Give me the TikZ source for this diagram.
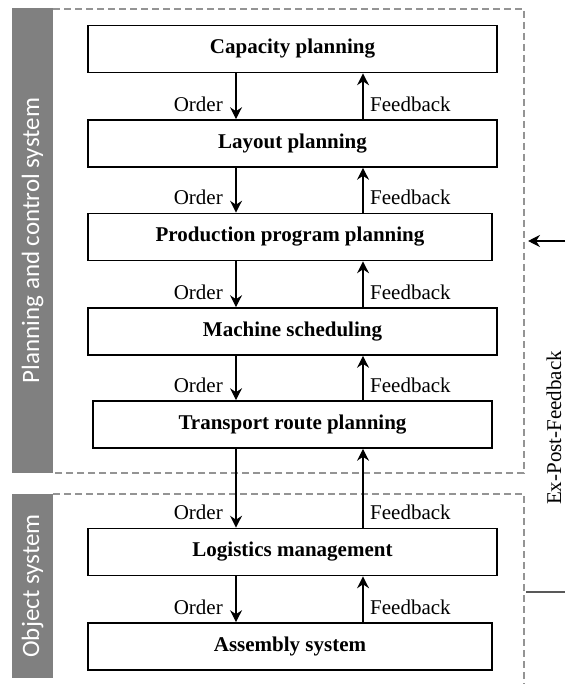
\documentclass[tikz,border=0pt]{standalone}
\usepackage{fontspec}
\setmainfont{Liberation Serif}
\newfontfamily\barfont{Carlito}
\usetikzlibrary{arrows.meta,calc}
\colorlet{barg}{black!50}
\colorlet{dashg}{black!42}
\colorlet{lineg}{black!65}
\tikzset{
    stage/.style={draw,line width=1.6pt,minimum height=47pt,inner sep=0pt,
        font=\fontsize{21}{24}\selectfont\bfseries},
    lbl/.style={inner sep=0pt,font=\fontsize{21}{24}\selectfont},
    flow/.style={line width=1.2pt,-{Stealth[length=12pt,width=12pt,inset=4pt]}},
    frame/.style={dashg,line width=2pt,dash pattern=on 7pt off 4pt},
    sidebar/.style={fill=barg,text=white,rotate=90,inner sep=0pt,
        minimum height=41pt,font=\barfont\fontsize{25}{28}\selectfont}
}
\begin{document}
\begin{tikzpicture}[x=1pt,y=-1pt]
            \useasboundingbox (0,0) rectangle (565,684);
            % side bars
            \node [sidebar,minimum width=465pt] (pcs) at (32.5,240.5) {Planning and control system};
            \node [sidebar,minimum width=184pt] (obj) at (32.5,586) {Object system};
            % dashed system frames
            \draw [frame] (53,9) -- (524,9) -- (524,473) -- (53,473);
            \draw [frame] (53,494) -- (524,494) -- (524,684);
            % planning stages
            \node [stage,minimum width=409pt] (cap) at (292.5,49) {Capacity planning};
            \node [stage,minimum width=409pt] (lay) at (292.5,143.5) {Layout planning};
            \node [stage,minimum width=404pt] (prod) at (290,237) {Production program planning};
            \node [stage,minimum width=409pt] (mach) at (292.5,331.5) {Machine scheduling};
            \node [stage,minimum width=399pt] (trans) at (292.5,424.5) {Transport route planning};
            \node [stage,minimum width=409pt] (logi) at (292.5,552) {Logistics management};
            \node [stage,minimum width=404pt] (asm) at (290,646.5) {Assembly system};
            \coordinate (ord) at (236,0);
            \coordinate (fb) at (363,0);
            \foreach \up/\dn in {cap/lay,lay/prod,prod/mach,mach/trans,trans/logi,logi/asm} {
                \draw [flow] (\up.south -| ord) -- (\dn.north -| ord);
                \draw [flow] (\dn.north -| fb) -- (\up.south -| fb);
                \node [lbl,anchor=base east] at ($(\dn.north -| ord)+(-13,-8)$) {Order};
                \node [lbl,anchor=base west] at ($(\dn.north -| fb)+(7,-8)$) {Feedback};
            }
            % ex-post feedback
            \coordinate (epin) at (565,241);
            \coordinate (epend) at (528,241);
            \coordinate (epsrc) at (565,592);
            \coordinate (epfoot) at (526,592);
            \draw [flow] (epin) -- (epend);
            \draw [lineg,line width=1.5pt] (epfoot) -- (epsrc);
            \node [lbl,rotate=90] (expost) at (554,428) {Ex-Post-Feedback};
        \end{tikzpicture}
\end{document}
